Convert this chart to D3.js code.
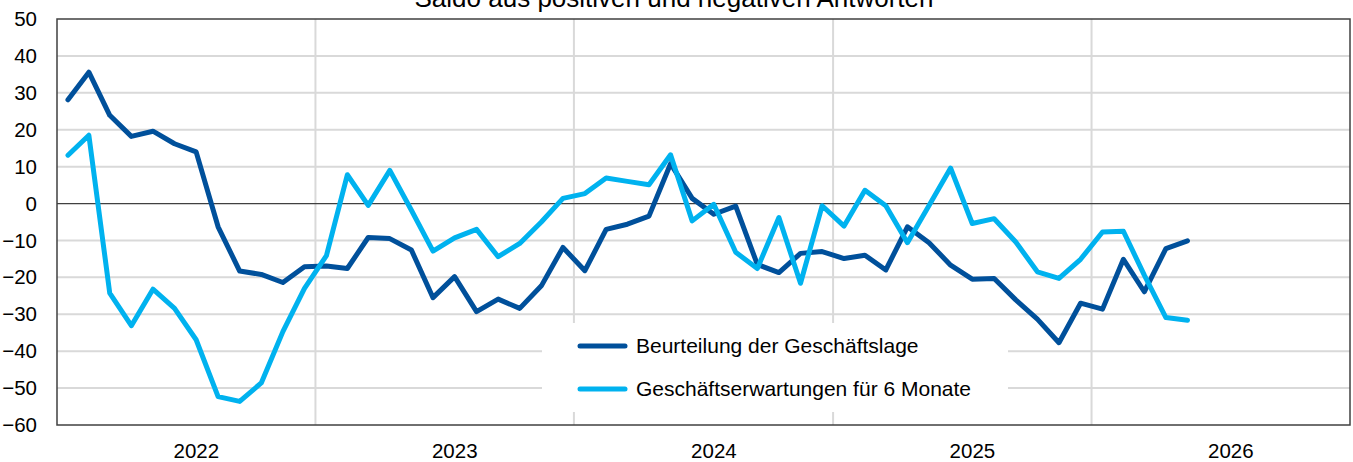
<!DOCTYPE html>
<html>
<head>
<meta charset="utf-8">
<script src="https://cdn.jsdelivr.net/npm/d3@7"></script>
<style>
  html, body { margin: 0; padding: 0; background: #fff; }
  svg { display: block; font-family: "Liberation Sans", Arial, sans-serif; }
</style>
</head>
<body>
<svg id="chart" width="1353" height="462"></svg>
<script>
// ---- data ----
const startMonth = "2022-01";
const seriesNames = ["Beurteilung der Geschäftslage", "Geschäftserwartungen für 6 Monate"];
const lage = [28.1, 35.6, 23.9, 18.2, 19.6, 16.2, 14.0, -6.3, -18.3, -19.2, -21.4, -17.1,
  -16.9, -17.6, -9.2, -9.5, -12.6, -25.5, -19.8, -29.3, -25.9, -28.4, -22.3, -11.9,
  -18.2, -7.0, -5.6, -3.4, 10.8, 1.4, -2.9, -0.7, -16.5, -18.7, -13.5, -13.0,
  -14.9, -14.0, -18.0, -6.3, -10.6, -16.7, -20.5, -20.3, -26.1, -31.3, -37.7, -27.0,
  -28.6, -15.1, -23.9, -12.2, -10.1];
const erwartungen = [13.1, 18.5, -24.3, -33.1, -23.2, -28.4, -36.9, -52.3, -53.6, -48.6, -34.7, -23.0,
  -14.1, 7.8, -0.5, 9.0, -1.8, -12.9, -9.3, -7.0, -14.4, -10.8, -5.0, 1.4,
  2.7, 6.9, 6.0, 5.1, 13.2, -4.7, -0.2, -13.2, -17.6, -3.8, -21.6, -0.6,
  -6.1, 3.6, -0.6, -10.6, -0.5, 9.6, -5.4, -4.1, -10.4, -18.5, -20.3, -15.1,
  -7.7, -7.5, -19.4, -30.9, -31.6];
const yearLabels = ["2022", "2023", "2024", "2025", "2026"];
const yTicks = [50, 40, 30, 20, 10, 0, -10, -20, -30, -40, -50, -60];
const title = "Saldo aus positiven und negativen Antworten";

(function () {
// ---- layout ----
const mLeft = 57, mRight = 1350, mTop = 19, mBottom = 425;
const colors = ["#00509b", "#00b2ef"];
const svg = d3.select("#chart");

const x = d3.scaleTime()
  .domain([new Date(2022, 0, 1), new Date(2027, 0, 1)])
  .range([mLeft, mRight]);
const y = d3.scaleLinear().domain([-60, 50]).range([mBottom, mTop]);

const parseMonth = d3.timeParse("%Y-%m");
const base = parseMonth(startMonth);
const midMonth = i => {
  const s = d3.timeMonth.offset(base, i);
  const e = d3.timeMonth.offset(base, i + 1);
  return new Date((s.getTime() + e.getTime()) / 2);
};

// title (partly cut at the top edge, as in the reference)
svg.append("text")
  .attr("x", 674).attr("y", 6.5)
  .attr("text-anchor", "middle")
  .attr("font-size", 26)
  .attr("fill", "#000")
  .text(title);

// horizontal grid
svg.append("g").selectAll("line")
  .data(yTicks.filter(d => d !== 0 && d !== 50 && d !== -60))
  .join("line")
  .attr("x1", mLeft).attr("x2", mRight)
  .attr("y1", d => y(d)).attr("y2", d => y(d))
  .attr("stroke", "#d9d9d9").attr("stroke-width", 2);

// vertical year grid
const yearStarts = yearLabels.slice(1).map(l => new Date(+l, 0, 1));
svg.append("g").selectAll("line")
  .data(yearStarts)
  .join("line")
  .attr("x1", d => x(d)).attr("x2", d => x(d))
  .attr("y1", mTop).attr("y2", mBottom)
  .attr("stroke", "#d9d9d9").attr("stroke-width", 2);

// zero line
svg.append("line")
  .attr("x1", mLeft).attr("x2", mRight)
  .attr("y1", y(0)).attr("y2", y(0))
  .attr("stroke", "#404040").attr("stroke-width", 1.3);

// frame
svg.append("rect")
  .attr("x", mLeft).attr("y", mTop)
  .attr("width", mRight - mLeft).attr("height", mBottom - mTop)
  .attr("fill", "none").attr("stroke", "#404040").attr("stroke-width", 1.5);

// y axis labels
const yAxis = d3.axisLeft(y).tickValues(yTicks).tickSize(0).tickPadding(20).tickFormat(d3.format("d"));
const gy = svg.append("g").attr("transform", `translate(${mLeft},0)`).call(yAxis);
gy.select(".domain").remove();
gy.selectAll("text").attr("font-size", 20.5).attr("fill", "#000")
  .attr("font-family", "Liberation Sans, Arial, sans-serif");

// x axis labels
const xAxis = d3.axisBottom(x)
  .tickValues(yearLabels.map(l => new Date(+l, 6, 16)))
  .tickSize(0).tickPadding(18)
  .tickFormat((d, i) => yearLabels[i]);
const gx = svg.append("g").attr("transform", `translate(0,${mBottom})`).call(xAxis);
gx.select(".domain").remove();
gx.selectAll("text").attr("font-size", 20.5).attr("fill", "#000")
  .attr("font-family", "Liberation Sans, Arial, sans-serif");

// lines
const line = d3.line().x((d, i) => x(midMonth(i))).y(d => y(d));
[lage, erwartungen].forEach((s, k) => {
  svg.append("path")
    .datum(s)
    .attr("d", line)
    .attr("fill", "none")
    .attr("stroke", colors[k])
    .attr("stroke-width", 5)
    .attr("stroke-linejoin", "round")
    .attr("stroke-linecap", "round");
});

// legend
const lg = svg.append("g");
lg.append("rect").attr("x", 542).attr("y", 323).attr("width", 466).attr("height", 89).attr("fill", "#fff");
seriesNames.forEach((n, k) => {
  const yy = 346 + k * 43;
  lg.append("line").attr("x1", 580).attr("x2", 625).attr("y1", yy).attr("y2", yy)
    .attr("stroke", colors[k]).attr("stroke-width", 5).attr("stroke-linecap", "round");
  lg.append("text").attr("x", 636).attr("y", yy).attr("dy", "0.35em")
    .attr("font-size", 21).attr("fill", "#000").text(n);
});
})();
</script>
</body>
</html>
